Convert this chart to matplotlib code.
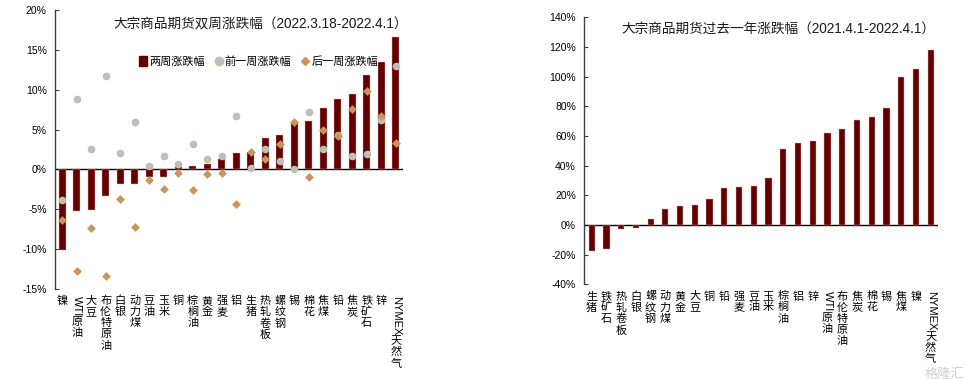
import re
import matplotlib
matplotlib.use("Agg")
import matplotlib.pyplot as plt
from matplotlib.lines import Line2D
from matplotlib.patches import Patch
from matplotlib.textpath import TextPath
from matplotlib.font_manager import FontProperties
from matplotlib.ticker import FuncFormatter

# ---- data: two-week change (left) ----
cats_2w = ['镍', 'WTI原油', '大豆', '布伦特原油', '白银', '动力煤', '豆油', '玉米', '铜', '棕榈油',
           '黄金', '强麦', '铝', '生猪', '热轧卷板', '螺纹钢', '锡', '棉花', '焦煤', '铅',
           '焦炭', '铁矿石', '锌', 'NYMEX天然气']
two_week = [-10.1, -5.2, -5.1, -3.35, -1.85, -1.85, -0.95, -1.0, 0.25, 0.45,
            0.7, 1.25, 2.05, 2.15, 4.0, 4.35, 5.9, 6.1, 7.75, 8.85,
            9.45, 11.9, 13.45, 16.7]
prev_week = [-3.9, 8.8, 2.55, 11.8, 2.1, 6.0, 0.4, 1.65, 0.65, 3.15,
             1.3, 1.65, 6.65, 0.15, 2.6, 1.1, 0.0, 7.2, 2.5, 4.3,
             1.65, 1.9, 6.2, 13.0]
next_week = [-6.4, -12.8, -7.4, -13.4, -3.75, -7.25, -1.35, -2.5, -0.5, -2.6,
             -0.6, -0.5, -4.3, 2.2, 1.25, 3.15, 5.9, -1.0, 5.0, 4.2,
             7.6, 9.85, 6.7, 3.25]

# ---- data: one-year change (right) ----
cats_1y = ['生猪', '铁矿石', '热轧卷板', '白银', '螺纹钢', '动力煤', '黄金', '大豆', '铜', '铅',
           '强麦', '豆油', '玉米', '棕榈油', '铝', '锌', 'WTI原油', '布伦特原油', '焦炭', '棉花',
           '锡', '焦煤', '镍', 'NYMEX天然气']
one_year = [-17.3, -16.0, -2.7, -1.8, 3.8, 10.8, 12.6, 13.3, 17.3, 24.9,
            25.4, 26.3, 31.5, 51.2, 55.5, 56.4, 61.8, 64.5, 70.6, 73.0,
            78.7, 99.8, 104.9, 118.2]

BAR = '#650000'
GRAY = '#BFBFB3'
TAN = '#C9955C'

plt.rcParams['font.family'] = ['Liberation Sans', 'Noto Sans CJK SC']
plt.rcParams['axes.unicode_minus'] = False

W, H = 966, 379
fig = plt.figure(figsize=(W / 100, H / 100), dpi=100)


def px_axes(x0, x1, ytop, ybot):
    return fig.add_axes([x0 / W, 1 - ybot / H, (x1 - x0) / W, (ybot - ytop) / H])


def style(ax):
    for s in ['top', 'right', 'bottom']:
        ax.spines[s].set_visible(False)
    ax.spines['left'].set_color('#404040')
    ax.spines['left'].set_linewidth(1.0)
    ax.tick_params(axis='y', direction='in', length=3, width=0.8, labelsize=7.5, pad=6, color='#404040')
    ax.tick_params(axis='x', length=0, labelbottom=False)
    ax.yaxis.set_major_formatter(FuncFormatter(lambda v, p: f'{v:.0f}%'))
    ax.axhline(0, color='black', lw=1.0, zorder=2)
    ax.patch.set_alpha(0)


lat_fp = FontProperties(family=['Liberation Sans'])


def vlabel(ax, x, s, fs=8, step=8.1, pad=5):
    # stacked vertical label: latin runs rotated, CJK one char per line
    off = pad
    for run in re.findall(r'[A-Za-z]+|.', s):
        if run.isascii():
            ax.annotate(run, xy=(x, 0), xycoords=('data', 'axes fraction'),
                        xytext=(0, -off), textcoords='offset points', rotation=270,
                        ha='center', va='top', fontsize=fs, family=['Liberation Sans'])
            w = TextPath((0, 0), run, size=fs, prop=lat_fp).get_extents().width
            off += w + 1.5
        else:
            ax.annotate(run, xy=(x, 0), xycoords=('data', 'axes fraction'),
                        xytext=(0, -off), textcoords='offset points',
                        ha='center', va='top', fontsize=fs, family=['Noto Sans CJK SC'])
            off += step


# ---- left chart ----
ax1 = px_axes(55, 403, 10.3, 288.6)
style(ax1)
xs = range(len(cats_2w))
ax1.bar(xs, two_week, width=0.45, color=BAR, edgecolor='#d9b0b0', linewidth=0.3, zorder=3)
ax1.scatter(xs, prev_week, s=30, color=GRAY, zorder=4, linewidths=0)
ax1.scatter(xs, next_week, s=20, marker='D', color=TAN, zorder=5, linewidths=0)
ax1.set_xlim(-0.5, len(cats_2w) - 0.5)
ax1.set_ylim(-15, 20)
ax1.set_yticks(range(-15, 21, 5))
for i, c in enumerate(cats_2w):
    vlabel(ax1, i, c)

handles = [Patch(color=BAR, label='两周涨跌幅'),
           Line2D([], [], ls='none', marker='o', ms=6, color=GRAY, label='前一周涨跌幅'),
           Line2D([], [], ls='none', marker='D', ms=4.5, color=TAN, label='后一周涨跌幅')]
ax1.legend(handles=handles, loc='center', bbox_to_anchor=(0.585, 0.815), ncol=3, frameon=False,
           handlelength=0.7, handleheight=1.0, handletextpad=0.2, columnspacing=0.9,
           prop={'family': ['Noto Sans CJK SC'], 'size': 8})

fig.text(408 / W, 1 - 25 / H, '大宗商品期货双周涨跌幅（2022.3.18-2022.4.1）', ha='right', va='center',
         fontsize=9.8, color='#1a1a1a')

# ---- right chart ----
ax2 = px_axes(584.3, 938, 17.3, 284.3)
style(ax2)
xs2 = range(len(cats_1y))
ax2.bar(xs2, one_year, width=0.42, color=BAR, edgecolor='#d9b0b0', linewidth=0.3, zorder=3)
ax2.set_xlim(-0.5, len(cats_1y) - 0.5)
ax2.set_ylim(-40, 140)
ax2.set_yticks(range(-40, 141, 20))
for i, c in enumerate(cats_1y):
    vlabel(ax2, i, c)

fig.text(935 / W, 1 - 29 / H, '大宗商品期货过去一年涨跌幅（2021.4.1-2022.4.1）', ha='right', va='center',
         fontsize=9.8, color='#1a1a1a')

fig.text(964 / W, 1 - 374 / H, '格隆汇', ha='right', va='center', fontsize=9.5,
         color='#d0d0d0', family=['Noto Sans CJK SC'])

fig.savefig('out.png', dpi=100)
